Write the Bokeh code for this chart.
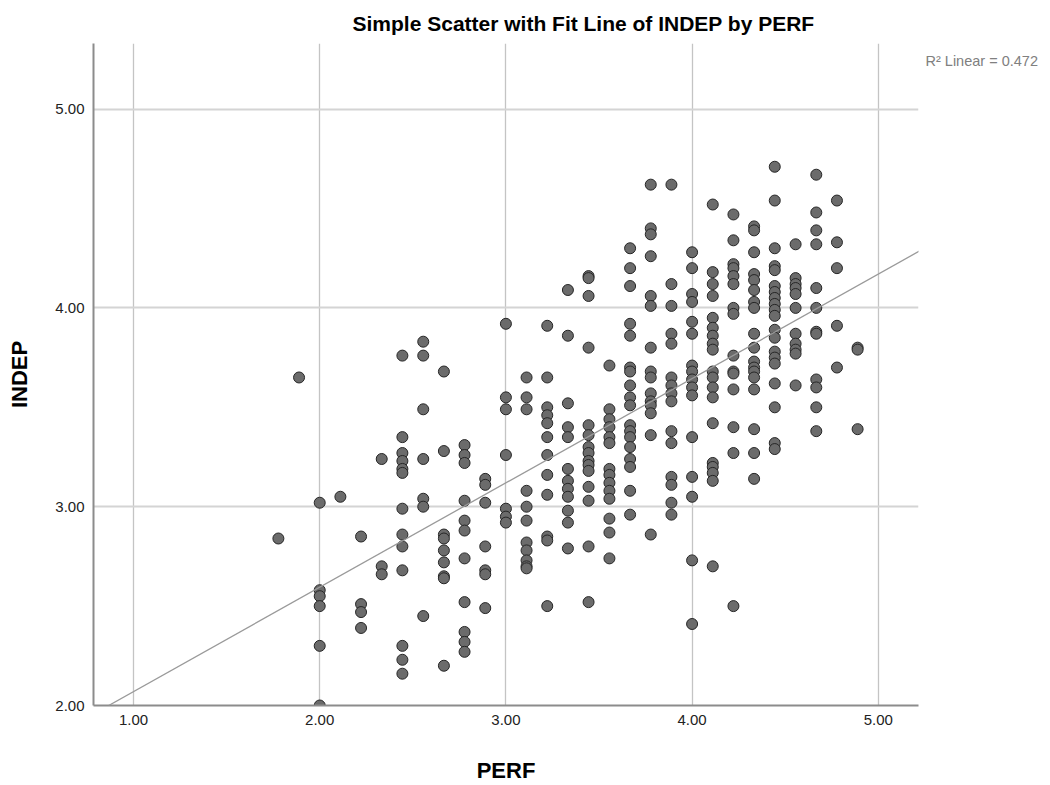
from bokeh.plotting import figure
from bokeh.models import (Range1d, FixedTicker, NumeralTickFormatter, Slope, LinearAxis,
                          ColumnDataSource)
from bokeh.embed import file_html
from bokeh.resources import INLINE

# PERF takes discrete levels (steps of 1/9); INDEP values read per level
PERF_LEVELS = [1.778, 1.889, 2.000, 2.111, 2.222, 2.333, 2.444, 2.556, 2.667, 2.778,
               2.889, 3.000, 3.111, 3.222, 3.333, 3.444, 3.556, 3.667, 3.778, 3.889,
               4.000, 4.111, 4.222, 4.333, 4.444, 4.556, 4.667, 4.778, 4.889]

INDEP_AT_LEVEL = [
    [2.84],
    [3.65],
    [3.02, 2.58, 2.55, 2.50, 2.30, 2.00],
    [3.05],
    [2.85, 2.51, 2.47, 2.39],
    [3.24, 2.70, 2.66],
    [3.76, 3.35, 3.27, 3.23, 3.19, 3.17, 2.99, 2.86, 2.80, 2.68, 2.30, 2.23, 2.16],
    [3.83, 3.76, 3.49, 3.24, 3.04, 3.00, 2.45],
    [3.68, 3.28, 2.86, 2.84, 2.78, 2.72, 2.65, 2.64, 2.20],
    [3.31, 3.26, 3.22, 3.03, 2.93, 2.88, 2.74, 2.52, 2.37, 2.32, 2.27],
    [3.14, 3.11, 3.02, 2.80, 2.68, 2.66, 2.49],
    [3.92, 3.55, 3.49, 3.26, 2.99, 2.95, 2.92],
    [3.65, 3.55, 3.49, 3.08, 3.00, 2.93, 2.82, 2.78, 2.73, 2.70, 2.69],
    [3.91, 3.65, 3.50, 3.46, 3.42, 3.35, 3.26, 3.16, 3.06, 2.85, 2.83, 2.50],
    [4.09, 3.86, 3.52, 3.40, 3.35, 3.19, 3.13, 3.09, 3.05, 2.98, 2.92, 2.79],
    [4.16, 4.15, 4.06, 3.80, 3.41, 3.36, 3.30, 3.27, 3.23, 3.21, 3.18, 3.10, 3.03, 2.80, 2.52],
    [3.71, 3.49, 3.44, 3.40, 3.35, 3.32, 3.19, 3.16, 3.12, 3.08, 3.04, 2.94, 2.87, 2.74],
    [4.30, 4.20, 4.11, 3.92, 3.86, 3.70, 3.68, 3.61, 3.55, 3.51, 3.41, 3.38, 3.35, 3.30,
     3.24, 3.20, 3.08, 2.96],
    [4.62, 4.40, 4.37, 4.26, 4.06, 4.01, 3.80, 3.68, 3.65, 3.57, 3.53, 3.51, 3.47, 3.36, 2.86],
    [4.62, 4.12, 4.01, 3.87, 3.82, 3.65, 3.61, 3.57, 3.53, 3.38, 3.32, 3.15, 3.11, 3.02, 2.96],
    [4.28, 4.20, 4.07, 4.03, 3.93, 3.87, 3.71, 3.68, 3.64, 3.60, 3.56, 3.35, 3.15, 3.05,
     2.73, 2.41],
    [4.52, 4.18, 4.12, 4.06, 3.95, 3.90, 3.86, 3.82, 3.79, 3.68, 3.65, 3.60, 3.55, 3.42,
     3.22, 3.20, 3.17, 3.13, 2.70],
    [4.47, 4.34, 4.22, 4.20, 4.16, 4.12, 4.00, 3.97, 3.76, 3.68, 3.67, 3.59, 3.40, 3.27, 2.50],
    [4.41, 4.39, 4.28, 4.17, 4.14, 4.09, 4.03, 4.00, 3.87, 3.80, 3.73, 3.70, 3.68, 3.65,
     3.59, 3.39, 3.27, 3.14],
    [4.71, 4.54, 4.30, 4.21, 4.19, 4.11, 4.08, 4.05, 4.02, 3.99, 3.96, 3.89, 3.85, 3.78,
     3.75, 3.72, 3.62, 3.50, 3.32, 3.29],
    [4.32, 4.15, 4.12, 4.10, 4.07, 4.00, 3.87, 3.82, 3.79, 3.77, 3.61],
    [4.67, 4.48, 4.39, 4.32, 4.10, 4.00, 3.88, 3.87, 3.64, 3.60, 3.50, 3.38],
    [4.54, 4.33, 4.20, 3.91, 3.70],
    [3.80, 3.79, 3.39],
]

X_TICKS = [1, 2, 3, 4, 5]
Y_TICKS = [2, 3, 4, 5]
R2_LINEAR = 0.472
FIT_INTERCEPT = 1.545
FIT_SLOPE = 0.525

TITLE = "Simple Scatter with Fit Line of INDEP by PERF"
X_LABEL = "PERF"
Y_LABEL = "INDEP"

perf = []
indep = []
for lvl, vals in zip(PERF_LEVELS, INDEP_AT_LEVEL):
    for v in vals:
        perf.append(lvl)
        indep.append(v)

src = ColumnDataSource(data=dict(perf=perf, indep=indep))

FONT = "Liberation Sans"
X0, X1 = 0.785, 5.216
Y0, Y1 = 2.0, 5.33

p = figure(width=1050, height=785, x_range=Range1d(X0, X1), y_range=Range1d(Y0, Y1),
           output_backend="svg", toolbar_location=None,
           min_border_left=93, min_border_right=132, min_border_top=43, min_border_bottom=80)

p.title.text = TITLE
p.title.align = "left"
p.title.offset = 259
p.title.standoff = 17
p.title.text_font = FONT
p.title.text_font_size = "21px"
p.title.text_font_style = "bold"
p.title.text_color = "#000000"

p.outline_line_color = None
p.background_fill_color = "white"
p.border_fill_color = "white"

for ax in (p.xaxis[0], p.yaxis[0]):
    ax.major_tick_out = 0
    ax.major_tick_in = 0
    ax.minor_tick_out = 0
    ax.minor_tick_in = 0
    ax.axis_line_color = "#8c8c8c"
    ax.axis_line_width = 2
    ax.formatter = NumeralTickFormatter(format="0.00")
    ax.major_label_text_font = FONT
    ax.major_label_text_font_size = "15px"
    ax.major_label_text_color = "#222222"
    ax.axis_label_text_font = FONT
    ax.axis_label_text_font_size = "22px"
    ax.axis_label_text_font_style = "bold"
    ax.axis_label_text_color = "#000000"
    ax.major_label_standoff = 9

p.xaxis.ticker = FixedTicker(ticks=X_TICKS)
p.yaxis.ticker = FixedTicker(ticks=Y_TICKS)
p.xaxis.axis_label = X_LABEL
p.yaxis.axis_label = Y_LABEL
p.xaxis.axis_label_standoff = 30
p.yaxis.axis_label_standoff = 20

p.xgrid.ticker = FixedTicker(ticks=X_TICKS)
p.ygrid.ticker = FixedTicker(ticks=Y_TICKS)
p.xgrid.grid_line_color = "#c4c4c4"
p.xgrid.grid_line_width = 1.3
p.ygrid.grid_line_color = "#d4d4d4"
p.ygrid.grid_line_width = 2

p.scatter("perf", "indep", source=src, size=11, fill_color="#6b6b6b", fill_alpha=1,
          line_color="#262626", line_width=1)

p.add_layout(Slope(gradient=FIT_SLOPE, y_intercept=FIT_INTERCEPT,
                   line_color="#9a9a9a", line_width=1.3))

# R² note shown at the top right, outside the plot frame, via a label-only right axis
p.extra_y_ranges = {"note": Range1d(int(Y0 * 100), int(Y1 * 100))}
note_axis = LinearAxis(y_range_name="note", ticker=FixedTicker(ticks=[524]),
                       major_label_overrides={524: "R\u00b2 Linear = %.3f" % R2_LINEAR})
note_axis.axis_line_color = None
note_axis.major_tick_out = 0
note_axis.major_tick_in = 0
note_axis.minor_tick_out = 0
note_axis.minor_tick_in = 0
note_axis.major_label_standoff = 7
note_axis.major_label_text_font = FONT
note_axis.major_label_text_font_size = "14.5px"
note_axis.major_label_text_color = "#808080"
p.add_layout(note_axis, "right")

open("out.html", "w").write(file_html(p, INLINE))
